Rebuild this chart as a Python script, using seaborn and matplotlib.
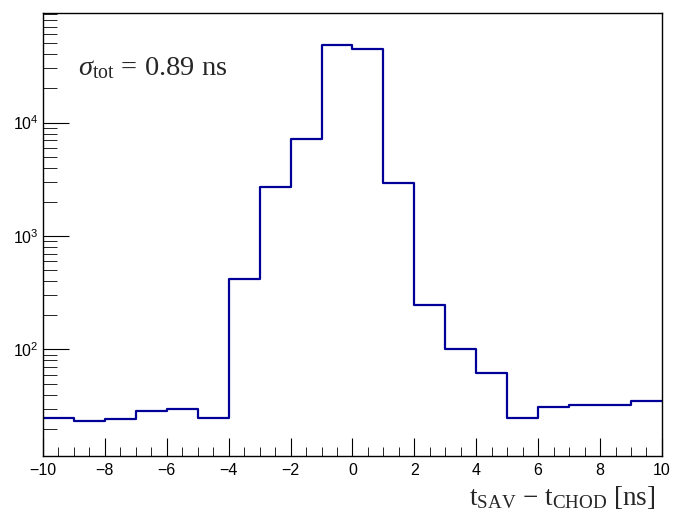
import numpy as np
import matplotlib.pyplot as plt
import seaborn as sns
from matplotlib.ticker import MultipleLocator, LogLocator, NullFormatter

# Bin edges (ns) and counts
bin_edges = [-10, -9, -8, -7, -6, -5, -4, -3, -2, -1, 0, 1, 2, 3, 4, 5, 6, 7, 8, 9, 10]
counts = [24.9, 23.5, 24.3, 28.4, 30.0, 25.1, 416, 2720, 7190, 48600,
          44600, 2910, 245, 100, 61.5, 25.1, 31.0, 32.1, 32.1, 35.1]
bin_centers = [(a + b) / 2 for a, b in zip(bin_edges[:-1], bin_edges[1:])]

sigma_text = r'$\sigma_{\mathrm{tot}}$ = 0.89 ns'
x_label = r'$\mathrm{t_{SAV}}$ $-$ $\mathrm{t_{CHOD}}$ [ns]'

sns.set_style('ticks')
plt.rcParams['font.family'] = ['Liberation Sans', 'DejaVu Sans']
plt.rcParams['mathtext.fontset'] = 'custom'
plt.rcParams['mathtext.rm'] = 'Liberation Serif'
plt.rcParams['mathtext.it'] = 'Liberation Serif:italic'
plt.rcParams['mathtext.bf'] = 'Liberation Serif:bold'

fig = plt.figure(figsize=(6.75, 5.17), dpi=100)
ax = fig.add_axes([0.0637, 0.118, 0.917, 0.857])

sns.histplot(x=bin_centers, weights=counts, bins=bin_edges, element='step',
             fill=False, color='#000099', linewidth=1.6, ax=ax)
ax.set_yscale('log')
ax.set_xlim(-10, 10)
ax.set_ylim(11.5, 92500)

# ROOT-like ticks
ax.xaxis.set_major_locator(MultipleLocator(2))
ax.xaxis.set_minor_locator(MultipleLocator(0.5))
ax.yaxis.set_major_locator(LogLocator(base=10, numticks=10))
ax.yaxis.set_minor_locator(LogLocator(base=10, subs=np.arange(2, 10), numticks=20))
ax.yaxis.set_minor_formatter(NullFormatter())
ax.tick_params(axis='both', which='both', direction='in', colors='black',
               labelsize=11.5, top=False, right=False)
ax.tick_params(axis='x', which='major', length=13, pad=5)
ax.tick_params(axis='x', which='minor', length=6.5)
ax.tick_params(axis='y', which='major', length=19, pad=3)
ax.tick_params(axis='y', which='minor', length=10)
ax.set_xticks(range(-10, 11, 2))
ax.set_xticklabels([f'\u2212{abs(v)}' if v < 0 else str(v) for v in range(-10, 11, 2)])
for sp in ax.spines.values():
    sp.set_visible(True)
    sp.set_linewidth(1.0)
    sp.set_color('black')

ax.set_ylabel('')
ax.set_xlabel('')
fig.text(0.971, 0.012, x_label, ha='right', va='bottom', fontsize=19.5,
         family='Liberation Serif')
ax.text(0.057, 0.876, sigma_text, transform=ax.transAxes, ha='left', va='center',
        fontsize=20.5, family='Liberation Serif')

fig.savefig('out.png', dpi=100)
